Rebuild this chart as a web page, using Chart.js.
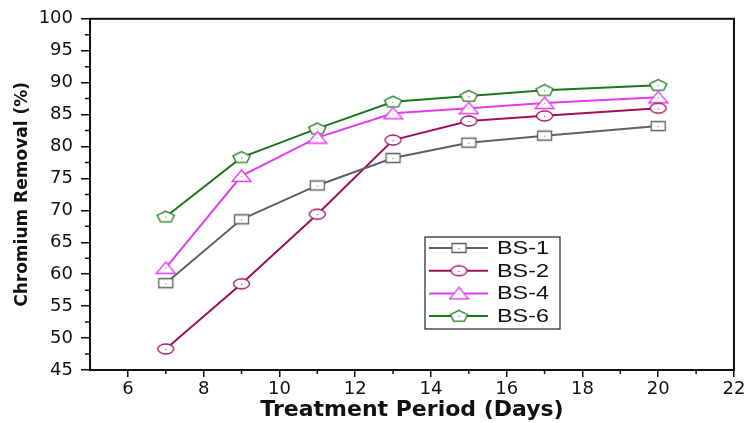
<!DOCTYPE html>
<html>
<head>
<meta charset="utf-8">
<script src="https://cdn.jsdelivr.net/npm/chart.js@4.4.1/dist/chart.umd.min.js"></script>
<style>
    html, body { margin: 0; padding: 0; background: #fff; }
    #wrap { width: 749px; height: 423px; }
</style>
</head>
<body>
<div id="wrap"><canvas id="chart" width="749" height="423"></canvas></div>
<script>
// treatment period (days)
const days = [7, 9, 11, 13, 15, 17, 20];
const xTicks = [6, 8, 10, 12, 14, 16, 18, 20, 22];
const yTicks = [45, 50, 55, 60, 65, 70, 75, 80, 85, 90, 95, 100];

const bs1 = [58.6, 68.6, 73.9, 78.2, 80.6, 81.7, 83.2];
const bs2 = [48.3, 58.5, 69.4, 81.0, 84.0, 84.8, 86.0];
const bs4 = [61.0, 75.4, 81.4, 85.2, 86.0, 86.8, 87.7];
const bs6 = [69.0, 78.3, 82.8, 87.0, 87.9, 88.8, 89.6];

const seriesNames = ["BS-1", "BS-2", "BS-4", "BS-6"];
const colors = ["#606060", "#a0105a", "#e03cf0", "#1a7a1a"];

const fontName = "'DejaVu Sans', sans-serif";

// hollow markers, wider than tall like the original
function marker(shape, color) {
    const c = document.createElement("canvas");
    c.width = 21;
    c.height = 14;
    const g = c.getContext("2d");
    const cx = 10.5;
    g.fillStyle = "#fff";
    g.strokeStyle = color;
    g.lineWidth = 1.3;
    g.beginPath();
    if (shape == "square") {
        g.rect(cx - 7, 2.5, 14, 9);
    } else if (shape == "circle") {
        g.ellipse(cx, 7, 8, 5, 0, 0, Math.PI * 2);
    } else if (shape == "triangle") {
        g.moveTo(cx, 1);
        g.lineTo(cx + 9.5, 12.5);
        g.lineTo(cx - 9.5, 12.5);
        g.closePath();
    } else {
        for (let i = 0; i < 5; i++) {
            const a = -Math.PI / 2 + i * 2 * Math.PI / 5;
            const px = cx + 9 * Math.cos(a);
            const py = 7.3 + 6 * Math.sin(a);
            if (i == 0) g.moveTo(px, py); else g.lineTo(px, py);
        }
        g.closePath();
    }
    g.fill();
    g.stroke();
    g.fillStyle = color;
    g.fillRect(10, 7, 1, 1);
    return c;
}

const shapes = ["square", "circle", "triangle", "pentagon"];
const allValues = [bs1, bs2, bs4, bs6];

const datasets = seriesNames.map(function(name, i) {
    return {
        label: name,
        data: days.map((d, j) => ({ x: d, y: allValues[i][j] })),
        borderColor: colors[i],
        backgroundColor: colors[i],
        borderWidth: 2,
        pointStyle: marker(shapes[i], colors[i]),
        pointRadius: 8,
        pointHoverRadius: 8,
        tension: 0
    };
});

// box round the plot, minor ticks and the inner legend
const framePlugin = {
    id: "frame",
    afterDraw(chart) {
        const ctx = chart.ctx;
        const a = chart.chartArea;
        const xs = chart.scales.x;
        const ys = chart.scales.y;
        ctx.save();
        ctx.strokeStyle = "#111";
        ctx.lineWidth = 2;
        ctx.strokeRect(a.left, a.top, a.right - a.left, a.bottom - a.top);

        ctx.lineWidth = 1.5;
        ctx.beginPath();
        for (let v = 7; v < 22; v += 2) {
            const px = xs.getPixelForValue(v);
            ctx.moveTo(px, a.bottom);
            ctx.lineTo(px, a.bottom + 4);
        }
        for (let v = 47.5; v < 100; v += 5) {
            const py = ys.getPixelForValue(v);
            ctx.moveTo(a.left, py);
            ctx.lineTo(a.left - 5, py);
        }
        ctx.stroke();

        // legend
        const lx = 425, ly = 237, lw = 135, lh = 92;
        ctx.lineWidth = 1.2;
        ctx.strokeStyle = "#222";
        ctx.strokeRect(lx, ly, lw, lh);
        ctx.textBaseline = "middle";
        ctx.fillStyle = "#111";
        chart.data.datasets.forEach(function(ds, i) {
            const y = ly + 11 + i * 22.7;
            ctx.strokeStyle = ds.borderColor;
            ctx.lineWidth = 2;
            ctx.beginPath();
            ctx.moveTo(lx + 4, y);
            ctx.lineTo(lx + 63, y);
            ctx.stroke();
            const img = ds.pointStyle;
            ctx.drawImage(img, lx + 34 - img.width / 2, y - img.height / 2);
            // the original type is stretched sideways
            ctx.save();
            ctx.translate(lx + 72, y + 1);
            ctx.scale(1.3, 1);
            ctx.font = "18px 'Liberation Sans', Arial, sans-serif";
            ctx.fillText(ds.label, 0, 0);
            ctx.restore();
        });
        ctx.restore();
    }
};

const tickFont = { family: fontName, size: 18 };

const chart = new Chart(document.getElementById("chart"), {
    type: "line",
    data: { datasets: datasets },
    options: {
        responsive: false,
        animation: false,
        layout: { padding: { left: 0, right: 15, top: 14, bottom: 0 } },
        plugins: {
            legend: { display: false },
            tooltip: { enabled: false }
        },
        scales: {
            x: {
                type: "linear",
                min: 5,
                max: 22,
                afterBuildTicks: s => { s.ticks = xTicks.map(v => ({ value: v })); },
                afterFit: s => { s.height = 53; },
                grid: { drawOnChartArea: false, tickLength: 7, color: "#111", lineWidth: 1.5 },
                border: { display: false },
                ticks: { color: "#111", font: tickFont, padding: 2, maxRotation: 0 },
                title: {
                    display: true,
                    text: "Treatment Period (Days)",
                    color: "#111",
                    font: { family: fontName, size: 22, weight: "bold" },
                    padding: { top: 0, bottom: 0 }
                }
            },
            y: {
                min: 45,
                max: 100,
                afterBuildTicks: s => { s.ticks = yTicks.map(v => ({ value: v })); },
                afterFit: s => { s.width = 90; },
                grid: { drawOnChartArea: false, tickLength: 9, color: "#111", lineWidth: 1.5 },
                border: { display: false },
                ticks: { color: "#111", font: tickFont, padding: 8 },
                title: {
                    display: true,
                    text: "Chromium Removal (%)",
                    color: "#111",
                    font: { family: fontName, size: 17, weight: "bold" },
                    padding: { top: 12, bottom: 0 }
                }
            }
        }
    },
    plugins: [framePlugin]
});
</script>
</body>
</html>
